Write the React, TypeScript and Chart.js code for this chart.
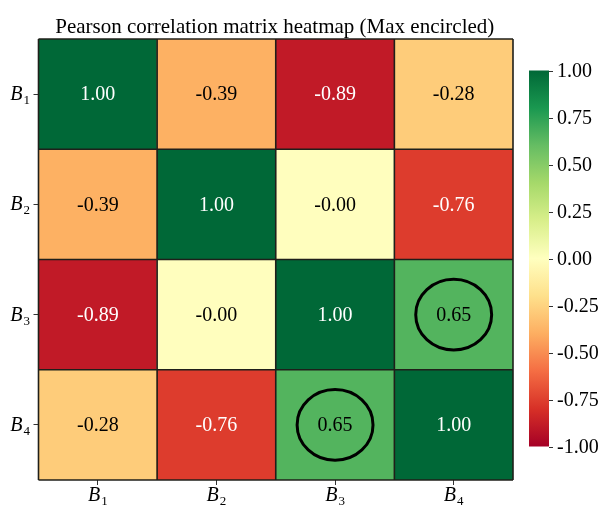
import React, { useEffect, useRef } from "react";
import { Chart, registerables } from "chart.js";

Chart.register(...registerables);

// Variable names (drawn as italic B with a subscript index)
const variables = ["B1", "B2", "B3", "B4"];

// Pearson correlation rows (row i = variable i)
const rowB1 = [1.0, -0.39, -0.89, -0.28];
const rowB2 = [-0.39, 1.0, -0.004, -0.76];
const rowB3 = [-0.89, -0.004, 1.0, 0.65];
const rowB4 = [-0.28, -0.76, 0.65, 1.0];
const matrix = [rowB1, rowB2, rowB3, rowB4];

// Colour bar ticks
const colorbarTicks = [1.0, 0.75, 0.5, 0.25, 0.0, -0.25, -0.5, -0.75, -1.0];

const title = "Pearson correlation matrix heatmap (Max encircled)";

// RdYlGn diverging palette, low -> high
const RDYLGN = [
  "#a50026", "#d73027", "#f46d43", "#fdae61", "#fee08b", "#ffffbf",
  "#d9ef8b", "#a6d96a", "#66bd63", "#1a9850", "#006837",
];

const FONT = '"Liberation Serif", "Times New Roman", serif';

function hexToRgb(h: string): number[] {
  const n = parseInt(h.slice(1), 16);
  return [(n >> 16) & 255, (n >> 8) & 255, n & 255];
}

function rdylgn(v: number): string {
  const t = Math.max(0, Math.min(1, (v + 1) / 2)) * (RDYLGN.length - 1);
  const i = Math.min(RDYLGN.length - 2, Math.floor(t));
  const f = t - i;
  const a = hexToRgb(RDYLGN[i]);
  const b = hexToRgb(RDYLGN[i + 1]);
  const c = a.map((x, k) => Math.round(x + (b[k] - x) * f));
  return `rgb(${c[0]},${c[1]},${c[2]})`;
}

function drawSubLabel(ctx: CanvasRenderingContext2D, name: string, x: number, y: number, align: "center" | "right") {
  const base = name.slice(0, 1);
  const sub = name.slice(1);
  ctx.save();
  ctx.fillStyle = "#000";
  ctx.textBaseline = "alphabetic";
  ctx.font = `italic 20px ${FONT}`;
  const wb = ctx.measureText(base).width;
  ctx.font = `13px ${FONT}`;
  const ws = ctx.measureText(sub).width;
  const total = wb + 1 + ws;
  const x0 = align === "center" ? x - total / 2 : x - total;
  ctx.textAlign = "left";
  ctx.font = `italic 20px ${FONT}`;
  ctx.fillText(base, x0, y);
  ctx.font = `13px ${FONT}`;
  ctx.fillText(sub, x0 + wb + 1, y + 4);
  ctx.restore();
}

const heatmapPlugin = {
  id: "heatmapDecor",
  afterDatasetsDraw(chart: any) {
    const ctx: CanvasRenderingContext2D = chart.ctx;
    const xs = chart.scales.x;
    const ys = chart.scales.y;
    const yl = chart.scales.yl;
    const n = variables.length;
    const cw = xs.getPixelForValue(1) - xs.getPixelForValue(0);
    const xEdge = (i: number) => xs.getPixelForValue(0) - cw / 2 + i * cw;
    const yEdge = (i: number) => ys.getPixelForValue(i);
    const ch = yEdge(1) - yEdge(0);

    // cell separators and frame
    ctx.save();
    ctx.strokeStyle = "#1f1f1a";
    ctx.lineWidth = 1.6;
    for (let i = 0; i <= n; i++) {
      ctx.beginPath();
      ctx.moveTo(xEdge(i), yEdge(0));
      ctx.lineTo(xEdge(i), yEdge(n));
      ctx.stroke();
      ctx.beginPath();
      ctx.moveTo(xEdge(0), yEdge(i));
      ctx.lineTo(xEdge(n), yEdge(i));
      ctx.stroke();
    }
    ctx.restore();

    // annotations
    ctx.save();
    ctx.font = `20px ${FONT}`;
    ctx.textAlign = "center";
    ctx.textBaseline = "middle";
    for (let r = 0; r < n; r++) {
      for (let c = 0; c < n; c++) {
        const v = matrix[r][c];
        ctx.fillStyle = Math.abs(v) > 0.7 ? "#ffffff" : "#000000";
        ctx.fillText(v.toFixed(2), xEdge(c) + cw / 2, yEdge(r) + ch / 2 + 1);
      }
    }
    ctx.restore();

    // encircle the largest off-diagonal correlation
    let maxV = -Infinity;
    for (let r = 0; r < n; r++) for (let c = 0; c < n; c++) if (r !== c) maxV = Math.max(maxV, matrix[r][c]);
    ctx.save();
    ctx.strokeStyle = "#000";
    ctx.lineWidth = 3;
    for (let r = 0; r < n; r++) {
      for (let c = 0; c < n; c++) {
        if (r !== c && matrix[r][c] === maxV) {
          ctx.beginPath();
          ctx.ellipse(xEdge(c) + cw / 2, yEdge(r) + ch / 2, 0.32 * cw, 0.32 * ch, 0, 0, Math.PI * 2);
          ctx.stroke();
        }
      }
    }
    ctx.restore();

    // axis labels with subscripts
    xs.ticks.forEach((_: any, i: number) => {
      drawSubLabel(ctx, variables[i], xs.getPixelForTick(i), 501, "center");
    });
    yl.ticks.forEach((_: any, i: number) => {
      drawSubLabel(ctx, variables[i], 30, yl.getPixelForTick(i) + 6, "right");
    });

    // title
    ctx.save();
    ctx.font = `21px ${FONT}`;
    ctx.fillStyle = "#000";
    ctx.textAlign = "center";
    ctx.textBaseline = "alphabetic";
    ctx.fillText(title, (chart.chartArea.left + chart.chartArea.right) / 2 - 1, 33);
    ctx.restore();

    // colour bar
    const cbL = 529, cbR = 549, cbT = 70.5, cbB = 446.5;
    const grad = ctx.createLinearGradient(0, cbB, 0, cbT);
    RDYLGN.forEach((col, i) => grad.addColorStop(i / (RDYLGN.length - 1), col));
    ctx.save();
    ctx.fillStyle = grad;
    ctx.fillRect(cbL, cbT, cbR - cbL, cbB - cbT);
    ctx.strokeStyle = "#333";
    ctx.lineWidth = 1;
    ctx.font = `20px ${FONT}`;
    ctx.fillStyle = "#000";
    ctx.textAlign = "left";
    ctx.textBaseline = "middle";
    colorbarTicks.forEach((t) => {
      const y = cbB - ((t + 1) / 2) * (cbB - cbT);
      ctx.beginPath();
      ctx.moveTo(cbR, Math.round(y) + 0.5);
      ctx.lineTo(cbR + 4, Math.round(y) + 0.5);
      ctx.stroke();
      ctx.fillText(t.toFixed(2), cbR + 8, y + 1);
    });
    ctx.restore();
  },
};

export default function App() {
  const canvasRef = useRef<HTMLCanvasElement | null>(null);

  useEffect(() => {
    if (!canvasRef.current) return;
    const datasets = matrix.map((row, r) => ({
      label: variables[r],
      data: row.map(() => 1),
      backgroundColor: row.map((v) => rdylgn(v)),
      borderWidth: 0,
      barPercentage: 1,
      categoryPercentage: 1,
      stack: "cells",
      yAxisID: "y",
    }));

    const chart = new Chart(canvasRef.current, {
      type: "bar",
      data: { labels: variables, datasets },
      plugins: [heatmapPlugin],
      options: {
        animation: false,
        responsive: false,
        devicePixelRatio: 1,
        layout: { padding: { top: 39, right: 93, bottom: 0, left: 0 } },
        plugins: { legend: { display: false }, tooltip: { enabled: false }, title: { display: false } },
        scales: {
          x: {
            type: "category",
            offset: true,
            border: { display: false },
            grid: { offset: false, drawOnChartArea: false, drawTicks: true, tickLength: 5, color: "#333" },
            ticks: { callback: () => "", padding: 0 },
            afterFit: (s: any) => { s.height = 29; },
          },
          y: {
            type: "linear",
            stacked: true,
            min: 0,
            max: 4,
            reverse: true,
            display: false,
          },
          yl: {
            type: "category",
            labels: variables,
            position: "left",
            offset: true,
            border: { display: false },
            grid: { offset: false, drawOnChartArea: false, drawTicks: true, tickLength: 5, color: "#333" },
            ticks: { callback: () => "", padding: 0 },
            afterFit: (s: any) => { s.width = 38.5; },
          },
        },
      } as any,
    });
    return () => chart.destroy();
  }, []);

  return (
    <div style={{ position: "fixed", top: 0, left: 0, width: 606, height: 509, background: "#fff" }}>
      <canvas ref={canvasRef} width={606} height={509} />
    </div>
  );
}
